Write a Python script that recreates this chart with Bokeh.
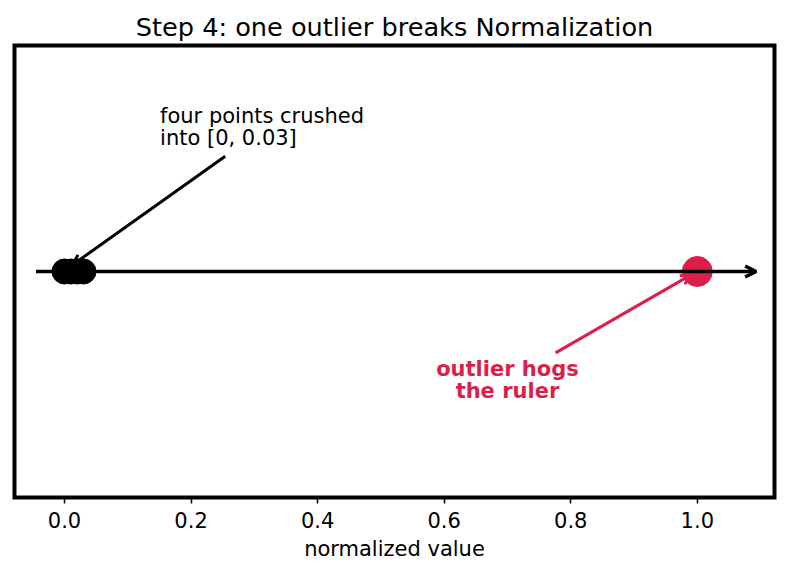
from bokeh.plotting import figure
from bokeh.models import Range1d, FixedTicker, Arrow, OpenHead, ColumnDataSource
from bokeh.core.properties import value
from bokeh.embed import file_html
from bokeh.resources import INLINE

# data
cluster_x = [0.0, 0.01, 0.02, 0.03]
cluster_y = [0.0, 0.0, 0.0, 0.0]
outlier_x = [1.0]
outlier_y = [0.0]
tick_values = [0.0, 0.2, 0.4, 0.6, 0.8, 1.0]
tick_labels = ["0.0", "0.2", "0.4", "0.6", "0.8", "1.0"]
title_text = "Step 4: one outlier breaks Normalization"
xlabel = "normalized value"
note_cluster = ["four points crushed", "into [0, 0.03]"]
note_outlier = ["outlier hogs", "the ruler"]

FONT = "DejaVu Sans"
RED = "#DC1F4A"

p = figure(width=787, height=573, output_backend="svg", toolbar_location=None,
           x_range=Range1d(-0.079, 1.122), y_range=Range1d(-1, 1),
           y_axis_location=None, title=title_text,
           min_border_left=14, min_border_right=13, min_border_top=45, min_border_bottom=76)
p.grid.visible = False
p.outline_line_color = "black"
p.outline_line_width = 4
p.outline_line_join = "miter"
p.background_fill_color = "white"
p.border_fill_color = "white"

p.title.align = "center"
p.title.text_font = FONT
p.title.text_font_size = "25.6px"
p.title.text_font_style = "normal"
p.title.text_color = "black"
p.title.standoff = 8

ax = p.xaxis[0]
ax.ticker = FixedTicker(ticks=tick_values)
ax.major_label_overrides = {v: l for v, l in zip(tick_values, tick_labels)}
ax.axis_line_color = None
ax.major_tick_in = 0
ax.major_tick_out = 6
ax.major_tick_line_width = 1.5
ax.minor_tick_line_color = None
ax.major_label_text_font = FONT
ax.major_label_text_font_size = "21px"
ax.major_label_text_color = "black"
ax.major_label_standoff = 8
ax.axis_label = xlabel
ax.axis_label_text_font = FONT
ax.axis_label_text_font_size = "21px"
ax.axis_label_text_font_style = "normal"
ax.axis_label_text_color = "black"
ax.axis_label_standoff = 6

# main ruler arrow
p.add_layout(Arrow(x_start=-0.045, y_start=0, x_end=1.093, y_end=0,
                   line_width=3.5, line_color="black",
                   end=OpenHead(size=11, line_width=3.5, line_color="black")))

# points
p.scatter(cluster_x, cluster_y, size=25, color="black")
p.scatter(outlier_x, outlier_y, size=30, color=RED)

# annotation arrows
p.add_layout(Arrow(x_start=0.254, y_start=0.51, x_end=0.013, y_end=0.03,
                   line_width=3, line_color="black",
                   end=OpenHead(size=10, line_width=3, line_color="black")))
p.add_layout(Arrow(x_start=0.776, y_start=-0.36, x_end=0.99, y_end=-0.015,
                   line_width=3, line_color=RED,
                   end=OpenHead(size=10, line_width=3, line_color=RED)))

# annotation texts
src1 = ColumnDataSource(dict(x=[0.151, 0.151], y=[0.69, 0.59], t=note_cluster))
p.text(x="x", y="y", text="t", source=src1, text_font=value(FONT),
       text_font_size="21px", text_color="black", text_baseline="middle", text_align="left")
src2 = ColumnDataSource(dict(x=[0.70, 0.70], y=[-0.43, -0.53], t=note_outlier))
p.text(x="x", y="y", text="t", source=src2, text_font=value(FONT),
       text_font_size="21px", text_color=RED, text_font_style="bold",
       text_baseline="middle", text_align="center")

open("out.html", "w").write(file_html(p, INLINE))
